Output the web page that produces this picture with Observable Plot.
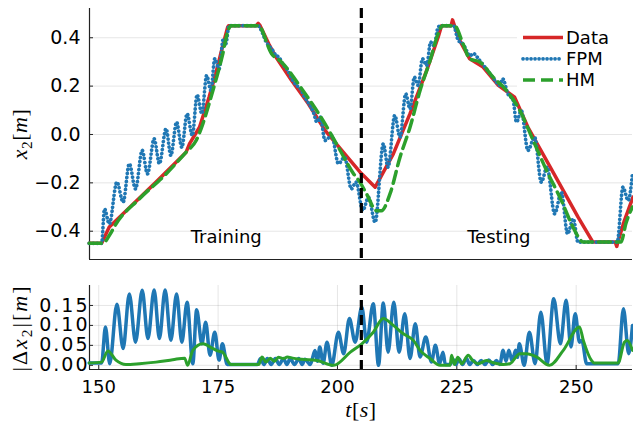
<!DOCTYPE html>
<html><head><meta charset="utf-8">
<script src="https://cdn.jsdelivr.net/npm/d3@7"></script>
<script src="https://cdn.jsdelivr.net/npm/@observablehq/plot@0.6"></script>
<style>
body{margin:0;background:#fff;}
#wrap{position:relative;width:633px;height:423px;overflow:hidden;font-family:"DejaVu Sans";background:#fff;}
#wrap svg{display:block;}
.math{position:absolute;font-family:"Liberation Serif";font-size:22px;white-space:nowrap;color:#000;line-height:1;transform:translate(-50%,-50%);}
.rot{transform:translate(-50%,-50%) rotate(-90deg);}
.math sub{font-size:0.7em;vertical-align:-0.3em;line-height:0;}
#legend{position:absolute;left:0;top:0;}
</style></head><body>
<div id="wrap">
  <div id="top"></div>
  <div id="bot"></div>
  <div class="math rot" style="left:20px;top:134px;letter-spacing:0.5px;"><i>x</i><sub>2</sub>[<i>m</i>]</div>
  <div class="math rot" style="left:20px;top:328px;letter-spacing:2px;">|Δ<i>x</i><sub>2</sub>|[<i>m</i>]</div>
  <div class="math" style="left:361px;top:410px;letter-spacing:0.5px;"><i>t</i>[<i>s</i>]</div>
</div>
<script>
// ---- axis setup ----
const xDomain = [148.06, 261.8];
const topYDomain = [-0.517, 0.521];
const botYDomain = [-0.0105, 0.2];
const xTicks = [150, 175, 200, 225, 250];
const topYTicks = [-0.4, -0.2, 0, 0.2, 0.4];
const botYTicks = [0, 0.05, 0.10, 0.15];
const splitT = [205];
const phaseLabels = ["Training", "Testing"];
const phaseT = [176.7, 233.8];
const phaseY = [-0.426, -0.426];
const seriesNames = ["Data", "FPM", "HM"];

// ---- Data (measured trajectory) ----
const dataT = [148.0, 150.6, 152.2, 155.1, 162.0, 168.3, 169.0, 171.1, 173.1, 174.5, 175.9, 177.0, 177.2, 183.0, 183.4, 183.8, 185.6, 186.9, 190.4, 193.9, 197.4, 200.9, 204.7, 207.9, 211.7, 215.2, 218.7, 221.1, 221.8, 223.8, 224.1, 224.5, 225.6, 227.7, 230.5, 233.7, 237.1, 239.9, 243.4, 246.9, 250.4, 253.5, 258.2, 258.5, 258.8, 260.1, 261.9];
const dataX = [-0.45, -0.45, -0.383, -0.328, -0.197, -0.073, -0.039, 0.030, 0.154, 0.251, 0.361, 0.444, 0.45, 0.45, 0.46, 0.45, 0.375, 0.327, 0.223, 0.127, 0.017, -0.066, -0.155, -0.218, -0.080, 0.086, 0.265, 0.403, 0.45, 0.45, 0.474, 0.45, 0.389, 0.313, 0.279, 0.203, 0.154, 0.030, -0.094, -0.218, -0.342, -0.445, -0.445, -0.463, -0.44, -0.356, -0.259];

// ---- FPM ----
const fpmT = [148.0, 150.6, 151.2, 152.2, 153.8, 155.1, 156.4, 157.7, 159.1, 160.2, 161.6, 162.7, 164.1, 165.1, 166.3, 167.4, 168.5, 169.6, 170.6, 171.6, 172.6, 173.5, 174.3, 175.2, 176.1, 176.6, 177.3, 183.3, 184.2, 185.0, 185.6, 186.3, 187.0, 187.8, 188.6, 189.5, 190.4, 191.3, 192.2, 193.1, 194.0, 195.0, 195.7, 196.4, 197.4, 198.8, 200.2, 201.5, 202.9, 203.9, 205.3, 206.5, 207.9, 209.6, 210.6, 212.0, 213.1, 214.3, 215.2, 216.1, 216.9, 217.8, 218.7, 219.5, 220.2, 221.1, 221.6, 224.3, 225.3, 225.9, 226.4, 227.0, 227.8, 228.4, 229.8, 231.2, 232.2, 233.3, 233.9, 234.6, 235.7, 236.8, 237.5, 238.5, 239.9, 241.3, 242.7, 243.9, 245.5, 246.9, 248.2, 249.4, 250.4, 251.0, 258.6, 259.8, 260.9, 261.8];
const fpmX = [-0.45, -0.45, -0.308, -0.370, -0.197, -0.280, -0.121, -0.225, -0.066, -0.163, -0.018, -0.121, 0.024, -0.087, 0.051, -0.053, 0.086, -0.004, 0.164, 0.086, 0.244, 0.182, 0.313, 0.272, 0.396, 0.375, 0.45, 0.45, 0.424, 0.385, 0.368, 0.352, 0.330, 0.318, 0.290, 0.268, 0.232, 0.205, 0.190, 0.155, 0.128, 0.090, 0.051, 0.072, -0.025, -0.004, -0.121, -0.094, -0.225, -0.197, -0.314, -0.260, -0.363, -0.039, -0.135, 0.079, -0.011, 0.168, 0.106, 0.237, 0.203, 0.313, 0.285, 0.382, 0.368, 0.444, 0.45, 0.45, 0.389, 0.380, 0.372, 0.348, 0.325, 0.335, 0.306, 0.270, 0.245, 0.216, 0.203, 0.230, 0.168, 0.141, 0.051, 0.099, -0.066, -0.011, -0.197, -0.135, -0.328, -0.239, -0.411, -0.349, -0.446, -0.445, -0.445, -0.218, -0.273, -0.160];

// ---- HM ----
const hmT = [148.0, 150.9, 152.2, 153.6, 158.5, 164.1, 168.3, 170.4, 171.8, 173.1, 174.5, 175.9, 176.9, 177.7, 183.4, 186.2, 188.3, 192.5, 197.4, 200.2, 203.4, 204.7, 206.1, 208.2, 209.2, 211.0, 213.1, 215.2, 217.3, 219.4, 221.1, 222.0, 224.5, 226.3, 227.7, 229.8, 232.6, 235.4, 238.2, 241.0, 243.8, 246.9, 249.0, 250.7, 251.4, 259.4, 260.4, 261.8];
const hmX = [-0.45, -0.45, -0.418, -0.37, -0.266, -0.163, -0.073, -0.025, 0.044, 0.127, 0.223, 0.327, 0.417, 0.45, 0.45, 0.334, 0.299, 0.189, 0.044, -0.053, -0.163, -0.197, -0.246, -0.315, -0.315, -0.246, -0.094, 0.030, 0.182, 0.306, 0.417, 0.45, 0.45, 0.375, 0.313, 0.300, 0.237, 0.182, 0.099, -0.025, -0.149, -0.273, -0.369, -0.431, -0.445, -0.445, -0.369, -0.30];

// ---- |Δx2| FPM ----
const errFpmT = [148.0, 150.6, 151.4, 152.3, 153.8, 155.1, 156.4, 157.7, 159.1, 160.3, 161.6, 162.7, 163.9, 165.1, 166.3, 167.4, 168.5, 169.7, 170.5, 171.6, 172.4, 173.3, 174.3, 175.2, 175.9, 176.9, 183.2, 183.9, 184.6, 185.3, 186.1, 187.0, 187.8, 188.7, 189.4, 190.1, 191.0, 191.9, 192.6, 193.2, 194.3, 195.3, 195.8, 196.3, 197.0, 197.8, 198.8, 200.2, 201.3, 202.5, 203.7, 205.1, 206.1, 207.5, 208.6, 209.6, 210.6, 211.8, 212.9, 214.1, 215.2, 216.3, 217.3, 218.5, 219.7, 220.5, 221.4, 222.1, 222.6, 223.6, 224.2, 224.8, 225.5, 226.2, 227.0, 227.7, 228.5, 229.3, 230.1, 230.9, 231.7, 232.5, 233.3, 234.0, 234.7, 235.3, 235.9, 236.6, 237.3, 237.7, 238.1, 239.1, 240.2, 241.4, 242.6, 243.9, 245.3, 246.7, 247.9, 248.9, 249.8, 250.7, 251.2, 252.2, 258.8, 259.9, 261.0, 261.8];
const errFpm = [0.006, 0.006, 0.096, 0.004, 0.153, 0.042, 0.179, 0.058, 0.188, 0.067, 0.189, 0.067, 0.189, 0.063, 0.179, 0.058, 0.158, 0.004, 0.139, 0.054, 0.108, 0.025, 0.083, 0.013, 0.054, 0.002, 0.002, 0.017, 0.002, 0.017, 0.002, 0.017, 0.002, 0.017, 0.002, 0.017, 0.002, 0.017, 0.002, 0.015, 0.002, 0.037, 0.010, 0.046, 0.005, 0.058, 0.0, 0.083, 0.029, 0.117, 0.058, 0.146, 0.058, 0.154, 0.0, 0.156, 0.033, 0.158, 0.033, 0.129, 0.017, 0.104, 0.021, 0.071, 0.008, 0.050, 0.004, 0.033, 0.002, 0.002, 0.015, 0.002, 0.016, 0.002, 0.018, 0.002, 0.012, 0.002, 0.012, 0.002, 0.013, 0.002, 0.012, 0.002, 0.038, 0.010, 0.038, 0.010, 0.038, 0.020, 0.054, 0.0, 0.083, 0.004, 0.133, 0.004, 0.167, 0.054, 0.163, 0.046, 0.129, 0.058, 0.062, 0.004, 0.004, 0.142, 0.029, 0.100];

// ---- |Δx2| HM ----
const errHmT = [148.0, 150.6, 151.9, 153.6, 155.7, 158.5, 162.0, 165.5, 168.0, 168.6, 169.7, 171.8, 173.9, 174.9, 175.9, 177.7, 182.6, 183.5, 184.2, 185.0, 185.9, 186.8, 187.6, 188.7, 189.5, 190.6, 192.5, 195.7, 199.2, 202.7, 205.1, 207.5, 209.6, 211.7, 213.8, 215.9, 217.3, 219.4, 221.5, 223.6, 223.9, 224.5, 225.2, 226.0, 227.4, 228.3, 229.5, 231.2, 232.5, 234.7, 236.1, 238.2, 239.6, 241.7, 244.4, 247.3, 250.7, 251.5, 253.2, 253.8, 258.8, 260.1, 260.7, 261.8];
const errHm = [0.006, 0.008, 0.036, 0.013, 0.002, 0.004, 0.008, 0.014, 0.018, 0.0, 0.0375, 0.054, 0.042, 0.036, 0.033, 0.002, 0.002, 0.002, 0.021, 0.008, 0.018, 0.010, 0.020, 0.017, 0.021, 0.018, 0.015, 0.012, 0.0, 0.033, 0.054, 0.083, 0.117, 0.100, 0.079, 0.0625, 0.0375, 0.017, 0.0, 0.0, 0.025, 0.002, 0.020, 0.004, 0.025, 0.012, 0.004, 0.012, 0.007, 0.002, 0.004, 0.029, 0.029, 0.021, 0.0, 0.0375, 0.096, 0.0625, 0.0125, 0.006, 0.006, 0.058, 0.062, 0.0375];

const colors = {Data: "#d62728", FPM: "#1f77b4", HM: "#2ca02c"};
const rows = (ts, vs) => ts.map((t, i) => ({t, v: vs[i]}));
const dataRows = rows(dataT, dataX);
const fpmRows = rows(fpmT, fpmX);
const hmRows = rows(hmT, hmX);
const errFpmRows = rows(errFpmT, errFpm);
const errHmRows = rows(errHmT, errHm);

const fmt = (digits) => (d) => (d < 0 ? "\u2212" : "") + Math.abs(d).toFixed(digits);
const baseStyle = {fontFamily: "DejaVu Sans", fontSize: "18px", background: "white", color: "black", overflow: "visible"};
const gridStyle = {stroke: "#000", strokeOpacity: 0.1, strokeWidth: 1};
const spine = {stroke: "#222", strokeWidth: 1.2};
const fpmDash = {strokeDasharray: "0.1,3.9", strokeLinecap: "round"};
const hmDash = {strokeDasharray: "12,6"};
const vDash = {stroke: "#000", strokeWidth: 3.2, strokeDasharray: "10,5"};

const topPlot = Plot.plot({
  width: 633, height: 268,
  marginLeft: 89, marginRight: 1, marginTop: 8, marginBottom: 9,
  x: {domain: xDomain, axis: null},
  y: {domain: topYDomain},
  style: baseStyle,
  marks: [
    Plot.gridY(topYTicks, gridStyle),
    Plot.axisY(topYTicks, {tickSize: 0, tickPadding: 9, tickFormat: fmt(1), label: null, fontSize: 19}),
    Plot.axisY(topYTicks, {tickSize: 4, dx: 4, fill: "none", label: null, stroke: "#222"}),
    Plot.ruleX([xDomain[0]], spine),
    Plot.ruleY([topYDomain[0]], spine),
    Plot.line(dataRows, {x: "t", y: "v", stroke: colors.Data, strokeWidth: 3.5}),
    Plot.line(fpmRows, {x: "t", y: "v", stroke: colors.FPM, strokeWidth: 3.7, curve: "monotone-x", ...fpmDash}),
    Plot.line(hmRows, {x: "t", y: "v", stroke: colors.HM, strokeWidth: 3.5, curve: "monotone-x", ...hmDash}),
    Plot.ruleX(splitT, vDash),
    Plot.text(phaseLabels, {x: (d, i) => phaseT[i], y: (d, i) => phaseY[i], text: d => d, fontSize: 18, fill: "black"})
  ]
});

const botPlot = Plot.plot({
  width: 633, height: 155,
  marginLeft: 89, marginRight: 1, marginTop: 17, marginBottom: 54,
  x: {domain: xDomain},
  y: {domain: botYDomain},
  style: baseStyle,
  marks: [
    Plot.gridY(botYTicks, gridStyle),
    Plot.gridX(xTicks, gridStyle),
    Plot.axisY(botYTicks, {tickSize: 0, tickPadding: 0, tickFormat: fmt(2), label: null, fontSize: 19}),
    Plot.axisY(botYTicks, {tickSize: 4, dx: 4, fill: "none", label: null, stroke: "#222"}),
    Plot.axisX(xTicks, {tickSize: 0, tickPadding: 11, tickFormat: d3.format("d"), label: null}),
    Plot.axisX(xTicks, {tickSize: 4, dy: -4, fill: "none", label: null, stroke: "#222"}),
    Plot.ruleX([xDomain[0]], spine),
    Plot.ruleY([botYDomain[0]], spine),
    Plot.line(errFpmRows, {x: "t", y: "v", stroke: colors.FPM, strokeWidth: 3.5, curve: "monotone-x"}),
    Plot.line(errHmRows, {x: "t", y: "v", stroke: colors.HM, strokeWidth: 3, curve: "monotone-x"}),
    Plot.ruleX(splitT, vDash)
  ]
});

// widen the lower y tick labels to match the reference glyph spacing
botPlot.querySelectorAll('g[aria-label="y-axis tick label"] text').forEach(t => t.style.letterSpacing = "2px");

document.getElementById("top").appendChild(topPlot);
document.getElementById("bot").appendChild(botPlot);

// legend overlay
const ns = "http://www.w3.org/2000/svg";
const lg = document.createElementNS(ns, "svg");
lg.setAttribute("id", "legend");
lg.setAttribute("width", 633); lg.setAttribute("height", 268);
const bg = document.createElementNS(ns, "rect");
bg.setAttribute("x", 517); bg.setAttribute("y", 23); bg.setAttribute("width", 116); bg.setAttribute("height", 67);
bg.setAttribute("fill", "white");
lg.appendChild(bg);
const dashes = {Data: null, FPM: fpmDash, HM: hmDash};
seriesNames.forEach((name, i) => {
  const y = 37.5 + i * 21.3;
  const ln = document.createElementNS(ns, "line");
  ln.setAttribute("x1", 523); ln.setAttribute("x2", 563);
  ln.setAttribute("y1", y); ln.setAttribute("y2", y);
  ln.setAttribute("stroke", colors[name]);
  ln.setAttribute("stroke-width", name === "FPM" ? 3.7 : 3.5);
  if (dashes[name]) {
    ln.setAttribute("stroke-dasharray", dashes[name].strokeDasharray);
    if (dashes[name].strokeLinecap) ln.setAttribute("stroke-linecap", "round");
  }
  lg.appendChild(ln);
  const tx = document.createElementNS(ns, "text");
  tx.setAttribute("x", 566); tx.setAttribute("y", y);
  tx.setAttribute("dy", "0.35em");
  tx.setAttribute("font-family", "DejaVu Sans");
  tx.setAttribute("font-size", 18);
  tx.textContent = name;
  lg.appendChild(tx);
});
document.getElementById("wrap").appendChild(lg);
</script>
</body></html>
